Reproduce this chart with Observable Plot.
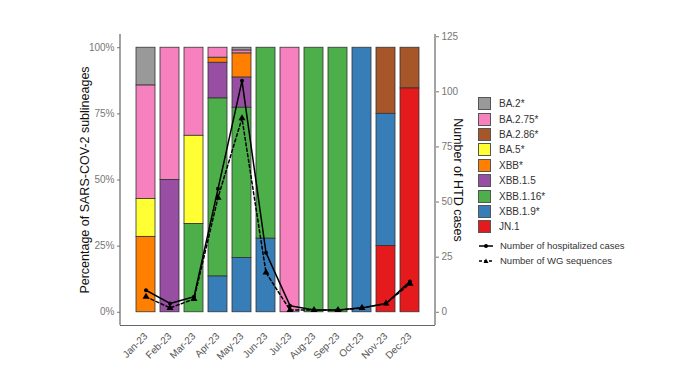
<!DOCTYPE html>
<html><head><meta charset="utf-8">
<script src="https://cdn.jsdelivr.net/npm/d3@7"></script>
<script src="https://cdn.jsdelivr.net/npm/@observablehq/plot@0.6"></script>
<style>
body{margin:0;background:#fff;font-family:"Liberation Sans",Arial,sans-serif;}
#wrap{position:relative;width:674px;height:365px;}
#legend{position:absolute;left:478px;top:96px;font-size:10px;color:#333;}
.li{display:flex;align-items:center;height:15.4px;}
.sw{width:13px;height:13px;border:1px solid #555;box-sizing:border-box;margin-right:8px;}
#leg2{position:absolute;left:478px;top:238px;font-size:9.5px;color:#333;}
#leg2 .li{height:15px;}
</style></head><body>
<div id="wrap"><div id="chart"></div>
<div id="legend"></div><div id="leg2"></div></div>
<script>
const months = ["Jan-23","Feb-23","Mar-23","Apr-23","May-23","Jun-23","Jul-23","Aug-23","Sep-23","Oct-23","Nov-23","Dec-23"];
const lineages = ["BA.2*","BA.2.75*","BA.2.86*","BA.5*","XBB*","XBB.1.5","XBB.1.16*","XBB.1.9*","JN.1"];
const colors = ["#999999","#F781BF","#A65628","#FFFF33","#FF7F00","#984EA3","#4DAF4A","#377EB8","#E41A1C"];
// percentage share per month
const BA2    = [14.3,0,0,0,1.1,0,0,0,0,0,0,0];
const BA275  = [42.9,50,33.3,3.8,1.1,0,100,0,0,0,0,0];
const BA286  = [0,0,0,0,0,0,0,0,0,0,25,15.4];
const BA5    = [14.3,0,33.3,0,0,0,0,0,0,0,0,0];
const XBB    = [28.5,0,0,1.9,9.1,0,0,0,0,0,0,0];
const XBB15  = [0,50,0,13.5,11.4,0,0,0,0,0,0,0];
const XBB116 = [0,0,33.4,67.3,56.8,72.2,0,100,100,0,0,0];
const XBB19  = [0,0,0,13.5,20.5,27.8,0,0,0,100,50,0];
const JN1    = [0,0,0,0,0,0,0,0,0,0,25,84.6];
const shares = [BA2,BA275,BA286,BA5,XBB,XBB15,XBB116,XBB19,JN1];
// counts
const hospitalized = [10,4,7,56,105,27,3,1,1,2,4,14];
const wgSequences  = [7,2,6,52,88,18,1,1,1,2,4,13];
const leftTicks = [0,0.25,0.5,0.75,1];
const rightTicks = [0,25,50,75,100,125];
const secScale = 120; // 100% on left axis corresponds to 120 cases

const stackOrder = ["JN.1","XBB.1.9*","XBB.1.16*","XBB.1.5","XBB*","BA.5*","BA.2.86*","BA.2.75*","BA.2*"];
const rows = [];
lineages.forEach((l,i)=>months.forEach((m,j)=>{ if(shares[i][j]>0) rows.push({month:m,lineage:l,share:shares[i][j]/100}); }));
const hosp = months.map((m,i)=>({month:m,v:hospitalized[i]/secScale}));
const wg = months.map((m,i)=>({month:m,v:wgSequences[i]/secScale}));

const plot = Plot.plot({
  width:674, height:365,
  marginLeft:120, marginRight:239, marginTop:34, marginBottom:40,
  style:{fontFamily:"Liberation Sans, Arial, sans-serif", fontSize:"10px", color:"#333"},
  x:{domain:months, paddingInner:0.2, paddingOuter:0.6},
  y:{domain:[-0.05,1.05]},
  color:{domain:lineages, range:colors},
  marks:[
    Plot.barY(rows, Plot.stackY({x:"month", y:"share", fill:"lineage", order:stackOrder, stroke:"#333", strokeWidth:0.8})),
    Plot.line(wg, {x:"month", y:"v", stroke:"#000", strokeWidth:1.5, strokeDasharray:"3,2.5"}),
    Plot.dot(wg, {x:"month", y:"v", symbol:"triangle", r:2.6, fill:"#000"}),
    Plot.line(hosp, {x:"month", y:"v", stroke:"#000", strokeWidth:1.5}),
    Plot.dot(hosp, {x:"month", y:"v", r:2, fill:"#000"}),
    Plot.axisY(leftTicks, {anchor:"left", tickFormat:d=>Math.round(d*100)+"%", tickSize:3, tickPadding:3, color:"#777", label:null, fontSize:10}),
    Plot.axisY(rightTicks.map(v=>v/secScale), {anchor:"right", tickFormat:d=>Math.round(d*secScale), tickSize:3, tickPadding:3, color:"#777", label:null, fontSize:10}),
    Plot.axisX({tickRotate:-45, tickSize:0, tickPadding:9, label:null, color:"#555", fontSize:10}),
    Plot.ruleY([-0.05], {stroke:"#666", strokeWidth:1.2}),
    Plot.text(["Percentage of SARS-COV-2 sublineages"], {frameAnchor:"left", textAnchor:"middle", dx:-36, rotate:-90, fontSize:12.5, fill:"#111"}),
    Plot.text(["Number of HTD cases"], {frameAnchor:"right", textAnchor:"middle", dx:22, rotate:90, fontSize:12.5, fill:"#111"})
  ]
});
document.getElementById("chart").appendChild(plot);
// panel side lines
const svg = d3.select(plot);
svg.append("line").attr("x1",120).attr("x2",120).attr("y1",34).attr("y2",325).attr("stroke","#666").attr("stroke-width",1.2);
svg.append("line").attr("x1",435).attr("x2",435).attr("y1",34).attr("y2",325).attr("stroke","#666").attr("stroke-width",1.2);

const lg = document.getElementById("legend");
lineages.forEach((l,i)=>{
  const d=document.createElement("div"); d.className="li";
  d.innerHTML=`<div class="sw" style="background:${colors[i]}"></div><span>${l}</span>`;
  lg.appendChild(d);
});
const lg2 = document.getElementById("leg2");
lg2.innerHTML = `<div class="li"><svg width="16" height="10" style="margin-right:6px"><line x1="1" x2="15" y1="5" y2="5" stroke="#000" stroke-width="1.5"/><circle cx="8" cy="5" r="2" fill="#000"/></svg><span>Number of hospitalized cases</span></div>
<div class="li"><svg width="16" height="10" style="margin-right:6px"><line x1="1" x2="15" y1="5" y2="5" stroke="#000" stroke-width="1.5" stroke-dasharray="3,2"/><path d="M8,2.5L10.5,7H5.5Z" fill="#000"/></svg><span>Number of WG sequences</span></div>`;
</script></body></html>
